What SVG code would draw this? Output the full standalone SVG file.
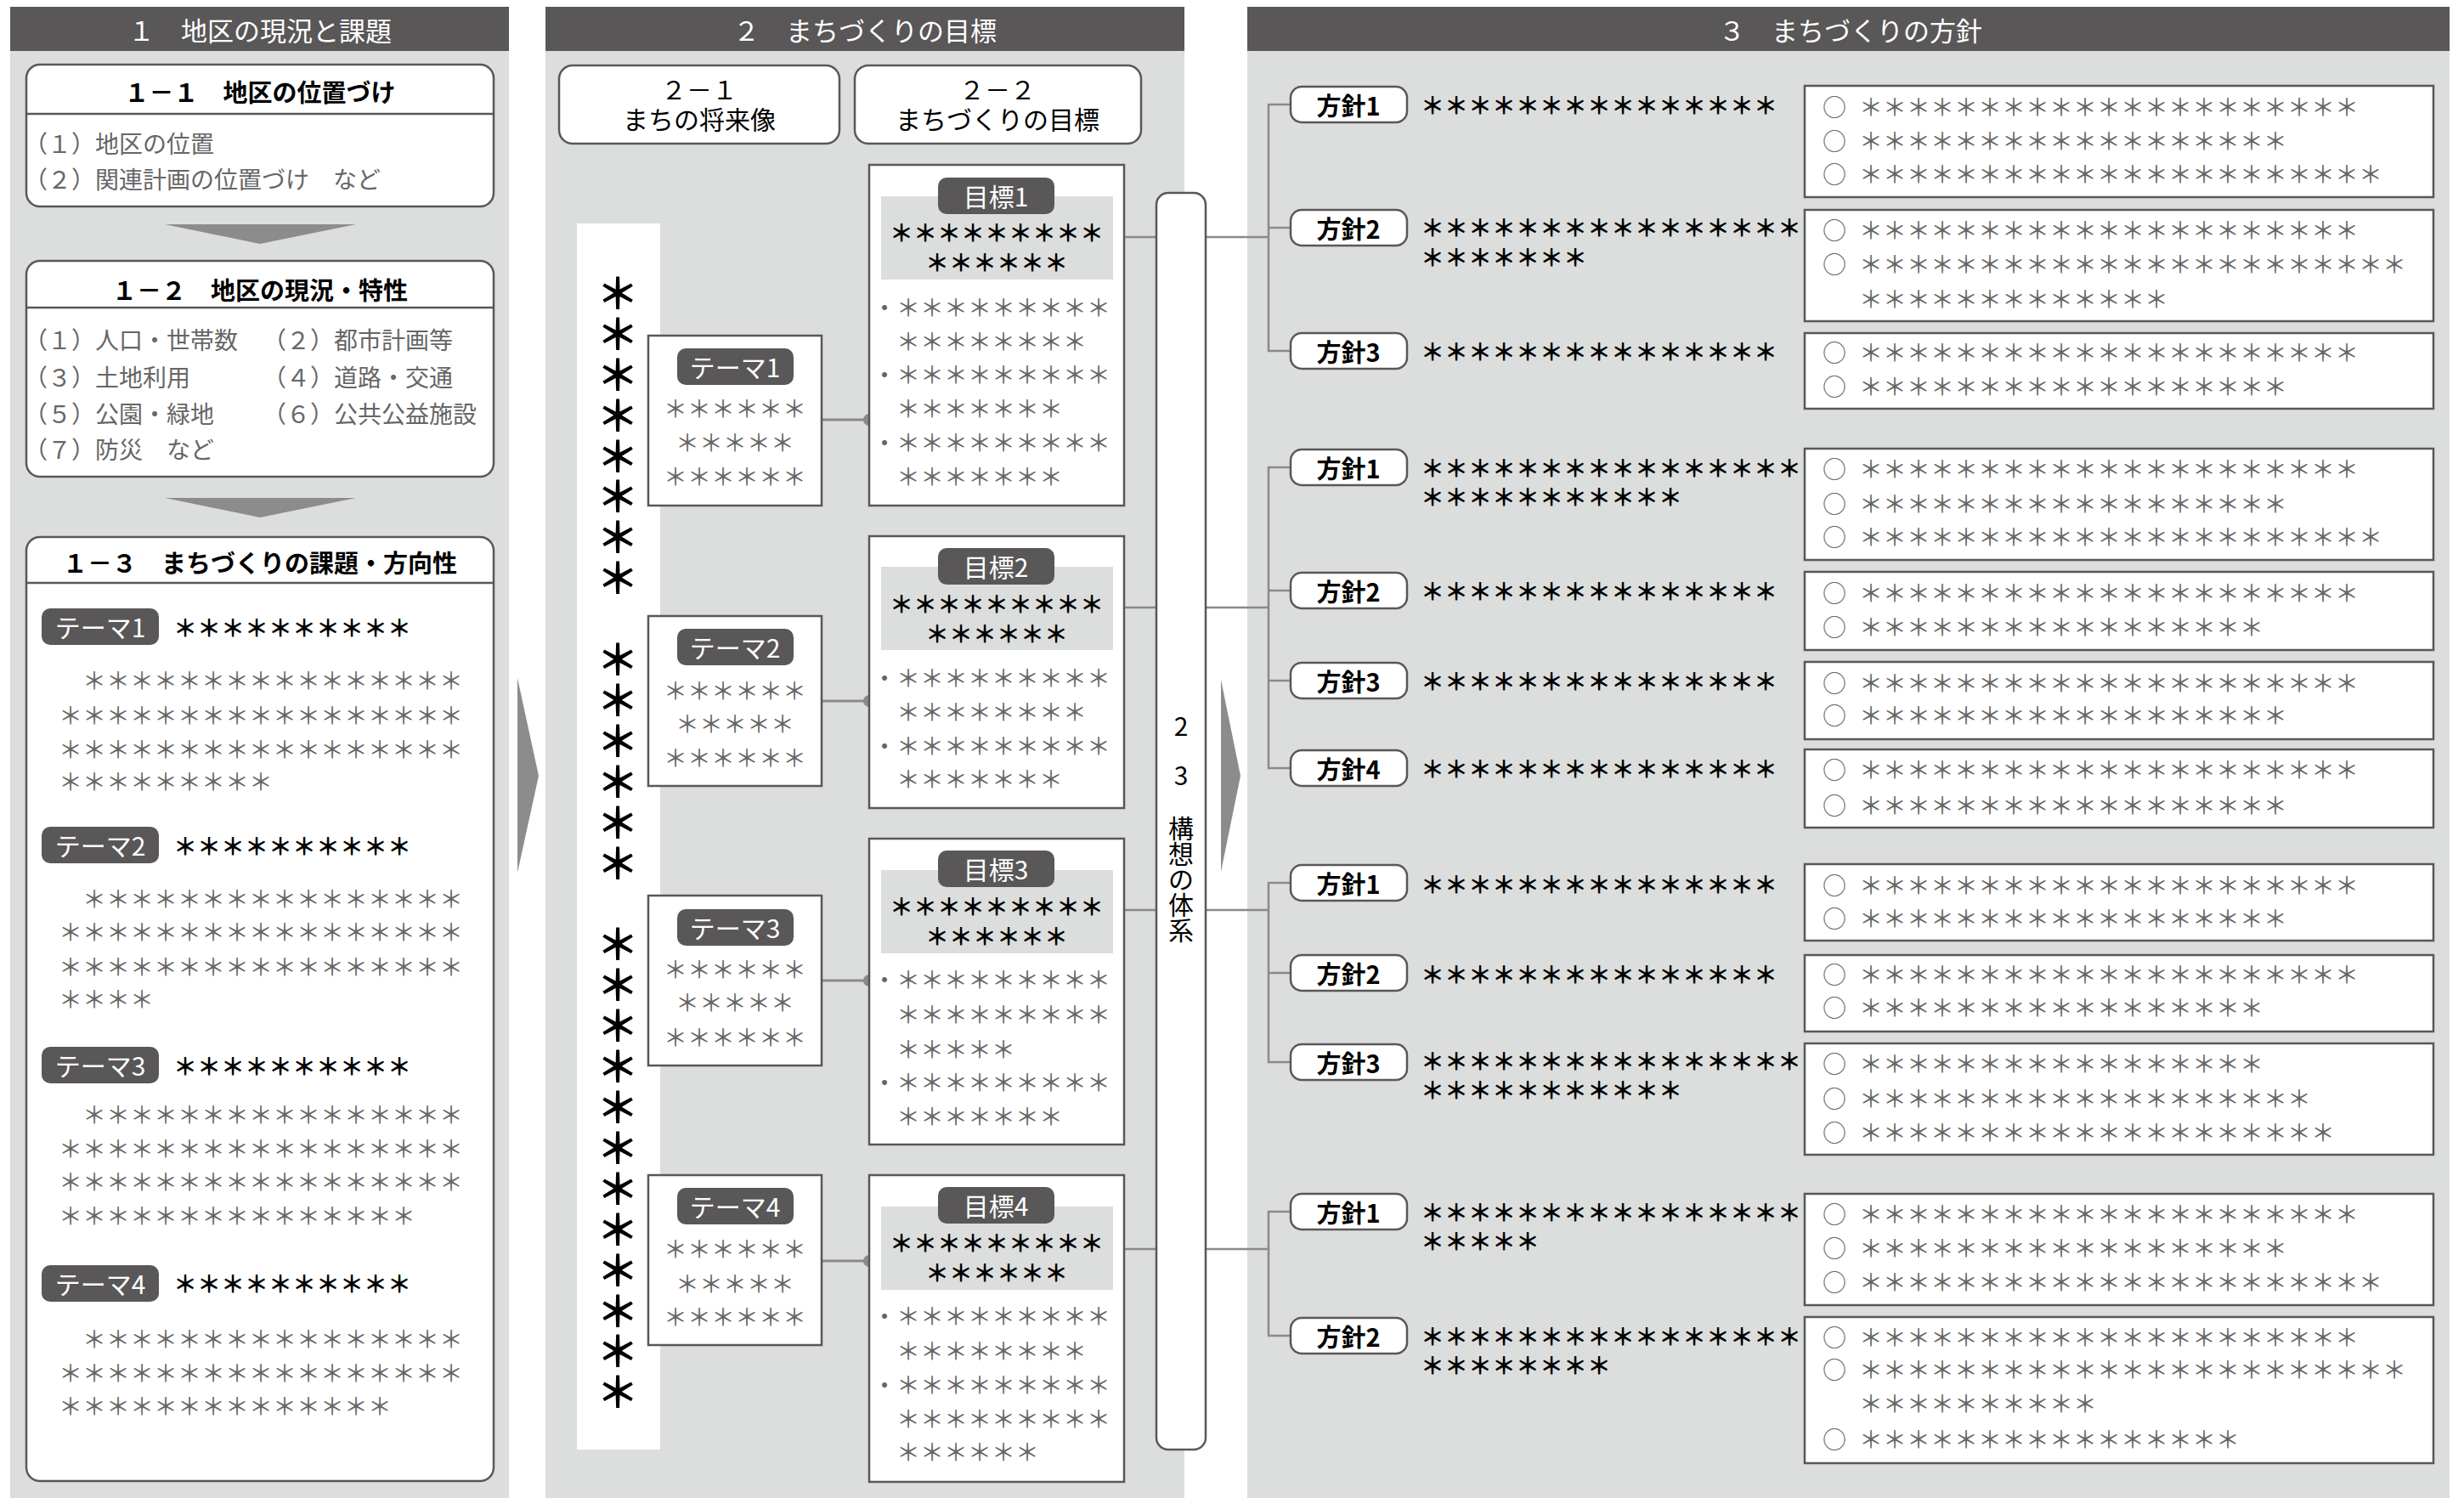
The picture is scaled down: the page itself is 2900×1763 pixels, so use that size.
<svg xmlns="http://www.w3.org/2000/svg" width="2900" height="1763" viewBox="0 0 2900 1763">
<defs>
<style>
text{font-family:"Noto Sans CJK JP","Noto Sans CJK SC",sans-serif;dominant-baseline:central}
.hd{fill:#fff;font-size:31px;text-anchor:middle}
.tt{fill:#000;font-size:29px;font-weight:bold;text-anchor:middle}
.tn{fill:#000;font-size:30px;text-anchor:middle}
.it{fill:#666;font-size:28px}
.g{fill:#666;font-size:28px}
.gc{fill:#666;font-size:28px;text-anchor:middle}
.b{fill:#000;font-size:28px;font-weight:bold}
.bc{fill:#000;font-size:28px;font-weight:bold;text-anchor:middle}
.pt{fill:#fff;font-size:30px;text-anchor:middle}
.pol{fill:#000;font-size:29px;font-weight:bold;text-anchor:middle}
.vis{fill:#000;font-size:50px;font-weight:bold;text-anchor:middle}
.col{fill:#000;font-size:30px;text-anchor:middle}
.panel{fill:#dcdddd}
.head{fill:#595757}
.box{fill:#fff;stroke:#595757;stroke-width:2.5}
.pill{fill:#595757}
.pp{fill:#fff;stroke:#595757;stroke-width:2.5}
.band{fill:#dcdddd}
.div{stroke:#595757;stroke-width:2.5}
.ln{stroke:#8a8a8a;stroke-width:3;fill:none}
.ln2{stroke:#8a8a8a;stroke-width:2.5;fill:none}
.arr{fill:#8c8c8c}
</style>
</defs>
<rect width="2900" height="1763" fill="#fff"/>

<g id="panel1">
<rect class="head" x="12" y="8" width="587" height="52"/>
<text class="hd" x="306" y="34">１　地区の現況と課題</text>
<rect class="panel" x="12" y="60" width="587" height="1703"/>
<polygon class="arr" points="194,264 419,264 306,287"/>
<polygon class="arr" points="194,586 419,586 306,609"/>
</g>
<g id="panel2">
<rect class="head" x="642" y="8" width="752" height="52"/>
<text class="hd" x="1018" y="34">２　まちづくりの目標</text>
<rect class="panel" x="642" y="60" width="752" height="1703"/>
</g>
<g id="panel3">
<rect class="head" x="1468" y="8" width="1415" height="52"/>
<text class="hd" x="2178" y="34">３　まちづくりの方針</text>
<rect class="panel" x="1468" y="60" width="1415" height="1703"/>
</g>
<g id="arrows">
<polygon class="arr" points="609,798 609,1027 634,913"/>
<polygon class="arr" points="1437,800 1437,1026 1460,913"/>
</g>

<g id="connectors">
<line class="ln" x1="967" y1="494" x2="1023" y2="494"/><circle cx="1023" cy="494" r="7" fill="#8a8a8a"/>
<line class="ln" x1="967" y1="825" x2="1023" y2="825"/><circle cx="1023" cy="825" r="7" fill="#8a8a8a"/>
<line class="ln" x1="967" y1="1154" x2="1023" y2="1154"/><circle cx="1023" cy="1154" r="7" fill="#8a8a8a"/>
<line class="ln" x1="967" y1="1484" x2="1023" y2="1484"/><circle cx="1023" cy="1484" r="7" fill="#8a8a8a"/>
<line class="ln2" x1="1323" y1="279" x2="1493" y2="279"/>
<line class="ln2" x1="1323" y1="715" x2="1493" y2="715"/>
<line class="ln2" x1="1323" y1="1071" x2="1493" y2="1071"/>
<line class="ln2" x1="1323" y1="1470" x2="1493" y2="1470"/>
<path class="ln2" d="M1519,123 H1493 V413 H1519 M1493,268 H1519"/>
<path class="ln2" d="M1519,550 H1493 V904 H1519 M1493,695 H1519 M1493,801 H1519"/>
<path class="ln2" d="M1519,1039 H1493 V1250 H1519 M1493,1145 H1519"/>
<path class="ln2" d="M1519,1426 H1493 V1572 H1519"/>
</g>

<g id="box1-1">
<rect class="box" x="31" y="76" width="550" height="167" rx="16"/>
<line class="div" x1="31" y1="134" x2="581" y2="134"/>
<text class="tt" x="306" y="107">１－１　地区の位置づけ</text>
<text class="it" x="28" y="168">（１）地区の位置</text>
<text class="it" x="28" y="210">（２）関連計画の位置づけ　など</text>
</g>
<g id="box1-2">
<rect class="box" x="31" y="307" width="550" height="254" rx="16"/>
<line class="div" x1="31" y1="362" x2="581" y2="362"/>
<text class="tt" x="306" y="340">１－２　地区の現況・特性</text>
<text class="it" x="28" y="399">（１）人口・世帯数</text>
<text class="it" x="309" y="399">（２）都市計画等</text>
<text class="it" x="28" y="443">（３）土地利用</text>
<text class="it" x="309" y="443">（４）道路・交通</text>
<text class="it" x="28" y="486">（５）公園・緑地</text>
<text class="it" x="309" y="486">（６）公共公益施設</text>
<text class="it" x="28" y="528">（７）防災　など</text>
</g>
<g id="box1-3">
<rect class="box" x="31" y="632" width="550" height="1111" rx="16"/>
<line class="div" x1="31" y1="686" x2="581" y2="686"/>
<text class="tt" x="306" y="661">１－３　まちづくりの課題・方向性</text>
<rect class="pill" x="49" y="716" width="138" height="43" rx="10"/>
<text class="pt" x="118" y="737">テーマ1</text>
<text class="b" x="204" y="738">＊＊＊＊＊＊＊＊＊＊</text>
<text class="g" x="69" y="800">　＊＊＊＊＊＊＊＊＊＊＊＊＊＊＊＊</text>
<text class="g" x="69" y="841">＊＊＊＊＊＊＊＊＊＊＊＊＊＊＊＊＊</text>
<text class="g" x="69" y="881">＊＊＊＊＊＊＊＊＊＊＊＊＊＊＊＊＊</text>
<text class="g" x="69" y="919">＊＊＊＊＊＊＊＊＊</text>
<rect class="pill" x="49" y="973" width="138" height="43" rx="10"/>
<text class="pt" x="118" y="994">テーマ2</text>
<text class="b" x="204" y="995">＊＊＊＊＊＊＊＊＊＊</text>
<text class="g" x="69" y="1057">　＊＊＊＊＊＊＊＊＊＊＊＊＊＊＊＊</text>
<text class="g" x="69" y="1096">＊＊＊＊＊＊＊＊＊＊＊＊＊＊＊＊＊</text>
<text class="g" x="69" y="1137">＊＊＊＊＊＊＊＊＊＊＊＊＊＊＊＊＊</text>
<text class="g" x="69" y="1175">＊＊＊＊</text>
<rect class="pill" x="49" y="1232" width="138" height="43" rx="10"/>
<text class="pt" x="118" y="1253">テーマ3</text>
<text class="b" x="204" y="1254">＊＊＊＊＊＊＊＊＊＊</text>
<text class="g" x="69" y="1311">　＊＊＊＊＊＊＊＊＊＊＊＊＊＊＊＊</text>
<text class="g" x="69" y="1351">＊＊＊＊＊＊＊＊＊＊＊＊＊＊＊＊＊</text>
<text class="g" x="69" y="1390">＊＊＊＊＊＊＊＊＊＊＊＊＊＊＊＊＊</text>
<text class="g" x="69" y="1430">＊＊＊＊＊＊＊＊＊＊＊＊＊＊＊</text>
<rect class="pill" x="49" y="1489" width="138" height="43" rx="10"/>
<text class="pt" x="118" y="1510">テーマ4</text>
<text class="b" x="204" y="1510">＊＊＊＊＊＊＊＊＊＊</text>
<text class="g" x="69" y="1575">　＊＊＊＊＊＊＊＊＊＊＊＊＊＊＊＊</text>
<text class="g" x="69" y="1615">＊＊＊＊＊＊＊＊＊＊＊＊＊＊＊＊＊</text>
<text class="g" x="69" y="1654">＊＊＊＊＊＊＊＊＊＊＊＊＊＊</text>
</g>

<g id="box2-1">
<rect class="box" x="658" y="77" width="330" height="92" rx="16"/>
<text class="tn" x="823" y="104">２－１</text>
<text class="tn" x="823" y="139">まちの将来像</text>
</g>
<g id="box2-2">
<rect class="box" x="1006" y="77" width="337" height="92" rx="16"/>
<text class="tn" x="1174" y="104">２－２</text>
<text class="tn" x="1174" y="139">まちづくりの目標</text>
</g>
<g id="vision">
<rect x="679" y="263" width="98" height="1443" fill="#fff"/>
<text class="vis" x="727 727 727 727 727 727 727 727" y="342 390 438 486 534 581 629 677">＊＊＊＊＊＊＊＊</text>
<text class="vis" x="727 727 727 727 727 727" y="773 821 869 917 965 1013">＊＊＊＊＊＊</text>
<text class="vis" x="727 727 727 727 727 727 727 727 727 727 727 727" y="1108 1156 1204 1252 1300 1348 1396 1444 1492 1540 1587 1635">＊＊＊＊＊＊＊＊＊＊＊＊</text>
</g>

<g id="theme2-1">
<rect class="box" x="763" y="395" width="204" height="200"/>
<rect class="pill" x="797" y="410" width="137" height="43" rx="10"/>
<text class="pt" x="865" y="431">テーマ1</text>
<text class="gc" x="865" y="480">＊＊＊＊＊＊</text>
<text class="gc" x="865" y="520">＊＊＊＊＊</text>
<text class="gc" x="865" y="560">＊＊＊＊＊＊</text>
</g>
<g id="theme2-2">
<rect class="box" x="763" y="725" width="204" height="200"/>
<rect class="pill" x="797" y="740" width="137" height="43" rx="10"/>
<text class="pt" x="865" y="761">テーマ2</text>
<text class="gc" x="865" y="812">＊＊＊＊＊＊</text>
<text class="gc" x="865" y="851">＊＊＊＊＊</text>
<text class="gc" x="865" y="891">＊＊＊＊＊＊</text>
</g>
<g id="theme2-3">
<rect class="box" x="763" y="1054" width="204" height="200"/>
<rect class="pill" x="797" y="1070" width="137" height="43" rx="10"/>
<text class="pt" x="865" y="1091">テーマ3</text>
<text class="gc" x="865" y="1140">＊＊＊＊＊＊</text>
<text class="gc" x="865" y="1179">＊＊＊＊＊</text>
<text class="gc" x="865" y="1220">＊＊＊＊＊＊</text>
</g>
<g id="theme2-4">
<rect class="box" x="763" y="1383" width="204" height="200"/>
<rect class="pill" x="797" y="1398" width="137" height="43" rx="10"/>
<text class="pt" x="865" y="1419">テーマ4</text>
<text class="gc" x="865" y="1469">＊＊＊＊＊＊</text>
<text class="gc" x="865" y="1510">＊＊＊＊＊</text>
<text class="gc" x="865" y="1549">＊＊＊＊＊＊</text>
</g>

<g id="goal1">
<rect class="box" x="1023" y="194" width="300" height="401"/>
<rect class="band" x="1037" y="231" width="273" height="98"/>
<rect class="pill" x="1104" y="209" width="137" height="43" rx="10"/>
<text class="pt" x="1172" y="230">目標1</text>
<text class="bc" x="1173" y="273">＊＊＊＊＊＊＊＊＊</text>
<text class="bc" x="1173" y="308">＊＊＊＊＊＊</text>
<text class="g" x="1027" y="361">・＊＊＊＊＊＊＊＊＊</text>
<text class="g" x="1027" y="401">　＊＊＊＊＊＊＊＊</text>
<text class="g" x="1027" y="440">・＊＊＊＊＊＊＊＊＊</text>
<text class="g" x="1027" y="480">　＊＊＊＊＊＊＊</text>
<text class="g" x="1027" y="520">・＊＊＊＊＊＊＊＊＊</text>
<text class="g" x="1027" y="560">　＊＊＊＊＊＊＊</text>
</g>
<g id="goal2">
<rect class="box" x="1023" y="631" width="300" height="320"/>
<rect class="band" x="1037" y="667" width="273" height="98"/>
<rect class="pill" x="1104" y="645" width="137" height="43" rx="10"/>
<text class="pt" x="1172" y="666">目標2</text>
<text class="bc" x="1173" y="710">＊＊＊＊＊＊＊＊＊</text>
<text class="bc" x="1173" y="745">＊＊＊＊＊＊</text>
<text class="g" x="1027" y="797">・＊＊＊＊＊＊＊＊＊</text>
<text class="g" x="1027" y="837">　＊＊＊＊＊＊＊＊</text>
<text class="g" x="1027" y="877">・＊＊＊＊＊＊＊＊＊</text>
<text class="g" x="1027" y="916">　＊＊＊＊＊＊＊</text>
</g>
<g id="goal3">
<rect class="box" x="1023" y="987" width="300" height="360"/>
<rect class="band" x="1037" y="1024" width="273" height="98"/>
<rect class="pill" x="1104" y="1001" width="137" height="43" rx="10"/>
<text class="pt" x="1172" y="1022">目標3</text>
<text class="bc" x="1173" y="1066">＊＊＊＊＊＊＊＊＊</text>
<text class="bc" x="1173" y="1101">＊＊＊＊＊＊</text>
<text class="g" x="1027" y="1152">・＊＊＊＊＊＊＊＊＊</text>
<text class="g" x="1027" y="1193">　＊＊＊＊＊＊＊＊＊</text>
<text class="g" x="1027" y="1234">　＊＊＊＊＊</text>
<text class="g" x="1027" y="1273">・＊＊＊＊＊＊＊＊＊</text>
<text class="g" x="1027" y="1313">　＊＊＊＊＊＊＊</text>
</g>
<g id="goal4">
<rect class="box" x="1023" y="1383" width="300" height="361"/>
<rect class="band" x="1037" y="1420" width="273" height="98"/>
<rect class="pill" x="1104" y="1397" width="137" height="43" rx="10"/>
<text class="pt" x="1172" y="1418">目標4</text>
<text class="bc" x="1173" y="1462">＊＊＊＊＊＊＊＊＊</text>
<text class="bc" x="1173" y="1497">＊＊＊＊＊＊</text>
<text class="g" x="1027" y="1548">・＊＊＊＊＊＊＊＊＊</text>
<text class="g" x="1027" y="1589">　＊＊＊＊＊＊＊＊</text>
<text class="g" x="1027" y="1629">・＊＊＊＊＊＊＊＊＊</text>
<text class="g" x="1027" y="1669">　＊＊＊＊＊＊＊＊＊</text>
<text class="g" x="1027" y="1708">　＊＊＊＊＊＊</text>
</g>

<g id="box2-3">
<rect class="box" x="1361" y="227" width="58" height="1479" rx="14"/>
<text class="col" x="1390 1390 1390 1390 1390 1390 1390" y="853 911 973 1003 1033 1063 1093">23構想の体系</text>
</g>

<g id="g1p1">
<rect class="pp" x="1519" y="102" width="137" height="42" rx="13"/>
<text class="pol" x="1587" y="123">方針1</text>
<text class="b" x="1672" y="123">＊＊＊＊＊＊＊＊＊＊＊＊＊＊＊</text>
<rect class="box" x="2124" y="101" width="740" height="131"/>
<text class="g" y="125"><tspan x="2145">○</tspan><tspan x="2188">＊＊＊＊＊＊＊＊＊＊＊＊＊＊＊＊＊＊＊＊＊</tspan></text>
<text class="g" y="165"><tspan x="2145">○</tspan><tspan x="2188">＊＊＊＊＊＊＊＊＊＊＊＊＊＊＊＊＊＊</tspan></text>
<text class="g" y="204"><tspan x="2145">○</tspan><tspan x="2188">＊＊＊＊＊＊＊＊＊＊＊＊＊＊＊＊＊＊＊＊＊＊</tspan></text>
</g>
<g id="g1p2">
<rect class="pp" x="1519" y="247" width="137" height="42" rx="13"/>
<text class="pol" x="1587" y="268">方針2</text>
<text class="b" x="1672" y="267">＊＊＊＊＊＊＊＊＊＊＊＊＊＊＊＊</text>
<text class="b" x="1672" y="302">＊＊＊＊＊＊＊</text>
<rect class="box" x="2124" y="247" width="740" height="131"/>
<text class="g" y="270"><tspan x="2145">○</tspan><tspan x="2188">＊＊＊＊＊＊＊＊＊＊＊＊＊＊＊＊＊＊＊＊＊</tspan></text>
<text class="g" y="310"><tspan x="2145">○</tspan><tspan x="2188">＊＊＊＊＊＊＊＊＊＊＊＊＊＊＊＊＊＊＊＊＊＊＊</tspan></text>
<text class="g" x="2188" y="351">＊＊＊＊＊＊＊＊＊＊＊＊＊</text>
</g>
<g id="g1p3">
<rect class="pp" x="1519" y="392" width="137" height="42" rx="13"/>
<text class="pol" x="1587" y="413">方針3</text>
<text class="b" x="1672" y="413">＊＊＊＊＊＊＊＊＊＊＊＊＊＊＊</text>
<rect class="box" x="2124" y="392" width="740" height="89"/>
<text class="g" y="414"><tspan x="2145">○</tspan><tspan x="2188">＊＊＊＊＊＊＊＊＊＊＊＊＊＊＊＊＊＊＊＊＊</tspan></text>
<text class="g" y="454"><tspan x="2145">○</tspan><tspan x="2188">＊＊＊＊＊＊＊＊＊＊＊＊＊＊＊＊＊＊</tspan></text>
</g>

<g id="g2p1">
<rect class="pp" x="1519" y="529" width="137" height="42" rx="13"/>
<text class="pol" x="1587" y="550">方針1</text>
<text class="b" x="1672" y="550">＊＊＊＊＊＊＊＊＊＊＊＊＊＊＊＊</text>
<text class="b" x="1672" y="584">＊＊＊＊＊＊＊＊＊＊＊</text>
<rect class="box" x="2124" y="528" width="740" height="131"/>
<text class="g" y="551"><tspan x="2145">○</tspan><tspan x="2188">＊＊＊＊＊＊＊＊＊＊＊＊＊＊＊＊＊＊＊＊＊</tspan></text>
<text class="g" y="592"><tspan x="2145">○</tspan><tspan x="2188">＊＊＊＊＊＊＊＊＊＊＊＊＊＊＊＊＊＊</tspan></text>
<text class="g" y="631"><tspan x="2145">○</tspan><tspan x="2188">＊＊＊＊＊＊＊＊＊＊＊＊＊＊＊＊＊＊＊＊＊＊</tspan></text>
</g>
<g id="g2p2">
<rect class="pp" x="1519" y="674" width="137" height="42" rx="13"/>
<text class="pol" x="1587" y="695">方針2</text>
<text class="b" x="1672" y="695">＊＊＊＊＊＊＊＊＊＊＊＊＊＊＊</text>
<rect class="box" x="2124" y="673" width="740" height="92"/>
<text class="g" y="697"><tspan x="2145">○</tspan><tspan x="2188">＊＊＊＊＊＊＊＊＊＊＊＊＊＊＊＊＊＊＊＊＊</tspan></text>
<text class="g" y="737"><tspan x="2145">○</tspan><tspan x="2188">＊＊＊＊＊＊＊＊＊＊＊＊＊＊＊＊＊</tspan></text>
</g>
<g id="g2p3">
<rect class="pp" x="1519" y="780" width="137" height="42" rx="13"/>
<text class="pol" x="1587" y="801">方針3</text>
<text class="b" x="1672" y="801">＊＊＊＊＊＊＊＊＊＊＊＊＊＊＊</text>
<rect class="box" x="2124" y="779" width="740" height="91"/>
<text class="g" y="803"><tspan x="2145">○</tspan><tspan x="2188">＊＊＊＊＊＊＊＊＊＊＊＊＊＊＊＊＊＊＊＊＊</tspan></text>
<text class="g" y="841"><tspan x="2145">○</tspan><tspan x="2188">＊＊＊＊＊＊＊＊＊＊＊＊＊＊＊＊＊＊</tspan></text>
</g>
<g id="g2p4">
<rect class="pp" x="1519" y="883" width="137" height="42" rx="13"/>
<text class="pol" x="1587" y="904">方針4</text>
<text class="b" x="1672" y="904">＊＊＊＊＊＊＊＊＊＊＊＊＊＊＊</text>
<rect class="box" x="2124" y="882" width="740" height="92"/>
<text class="g" y="905"><tspan x="2145">○</tspan><tspan x="2188">＊＊＊＊＊＊＊＊＊＊＊＊＊＊＊＊＊＊＊＊＊</tspan></text>
<text class="g" y="947"><tspan x="2145">○</tspan><tspan x="2188">＊＊＊＊＊＊＊＊＊＊＊＊＊＊＊＊＊＊</tspan></text>
</g>

<g id="g3p1">
<rect class="pp" x="1519" y="1018" width="137" height="42" rx="13"/>
<text class="pol" x="1587" y="1039">方針1</text>
<text class="b" x="1672" y="1040">＊＊＊＊＊＊＊＊＊＊＊＊＊＊＊</text>
<rect class="box" x="2124" y="1017" width="740" height="90"/>
<text class="g" y="1041"><tspan x="2145">○</tspan><tspan x="2188">＊＊＊＊＊＊＊＊＊＊＊＊＊＊＊＊＊＊＊＊＊</tspan></text>
<text class="g" y="1080"><tspan x="2145">○</tspan><tspan x="2188">＊＊＊＊＊＊＊＊＊＊＊＊＊＊＊＊＊＊</tspan></text>
</g>
<g id="g3p2">
<rect class="pp" x="1519" y="1124" width="137" height="42" rx="13"/>
<text class="pol" x="1587" y="1145">方針2</text>
<text class="b" x="1672" y="1146">＊＊＊＊＊＊＊＊＊＊＊＊＊＊＊</text>
<rect class="box" x="2124" y="1124" width="740" height="90"/>
<text class="g" y="1146"><tspan x="2145">○</tspan><tspan x="2188">＊＊＊＊＊＊＊＊＊＊＊＊＊＊＊＊＊＊＊＊＊</tspan></text>
<text class="g" y="1185"><tspan x="2145">○</tspan><tspan x="2188">＊＊＊＊＊＊＊＊＊＊＊＊＊＊＊＊＊</tspan></text>
</g>
<g id="g3p3">
<rect class="pp" x="1519" y="1229" width="137" height="42" rx="13"/>
<text class="pol" x="1587" y="1250">方針3</text>
<text class="b" x="1672" y="1248">＊＊＊＊＊＊＊＊＊＊＊＊＊＊＊＊</text>
<text class="b" x="1672" y="1282">＊＊＊＊＊＊＊＊＊＊＊</text>
<rect class="box" x="2124" y="1228" width="740" height="131"/>
<text class="g" y="1251"><tspan x="2145">○</tspan><tspan x="2188">＊＊＊＊＊＊＊＊＊＊＊＊＊＊＊＊＊</tspan></text>
<text class="g" y="1292"><tspan x="2145">○</tspan><tspan x="2188">＊＊＊＊＊＊＊＊＊＊＊＊＊＊＊＊＊＊＊</tspan></text>
<text class="g" y="1332"><tspan x="2145">○</tspan><tspan x="2188">＊＊＊＊＊＊＊＊＊＊＊＊＊＊＊＊＊＊＊＊</tspan></text>
</g>

<g id="g4p1">
<rect class="pp" x="1519" y="1405" width="137" height="42" rx="13"/>
<text class="pol" x="1587" y="1426">方針1</text>
<text class="b" x="1672" y="1426">＊＊＊＊＊＊＊＊＊＊＊＊＊＊＊＊</text>
<text class="b" x="1672" y="1460">＊＊＊＊＊</text>
<rect class="box" x="2124" y="1405" width="740" height="131"/>
<text class="g" y="1428"><tspan x="2145">○</tspan><tspan x="2188">＊＊＊＊＊＊＊＊＊＊＊＊＊＊＊＊＊＊＊＊＊</tspan></text>
<text class="g" y="1468"><tspan x="2145">○</tspan><tspan x="2188">＊＊＊＊＊＊＊＊＊＊＊＊＊＊＊＊＊＊</tspan></text>
<text class="g" y="1508"><tspan x="2145">○</tspan><tspan x="2188">＊＊＊＊＊＊＊＊＊＊＊＊＊＊＊＊＊＊＊＊＊＊</tspan></text>
</g>
<g id="g4p2">
<rect class="pp" x="1519" y="1551" width="137" height="42" rx="13"/>
<text class="pol" x="1587" y="1572">方針2</text>
<text class="b" x="1672" y="1572">＊＊＊＊＊＊＊＊＊＊＊＊＊＊＊＊</text>
<text class="b" x="1672" y="1606">＊＊＊＊＊＊＊＊</text>
<rect class="box" x="2124" y="1550" width="740" height="172"/>
<text class="g" y="1573"><tspan x="2145">○</tspan><tspan x="2188">＊＊＊＊＊＊＊＊＊＊＊＊＊＊＊＊＊＊＊＊＊</tspan></text>
<text class="g" y="1611"><tspan x="2145">○</tspan><tspan x="2188">＊＊＊＊＊＊＊＊＊＊＊＊＊＊＊＊＊＊＊＊＊＊＊</tspan></text>
<text class="g" x="2188" y="1651">＊＊＊＊＊＊＊＊＊＊</text>
<text class="g" y="1693"><tspan x="2145">○</tspan><tspan x="2188">＊＊＊＊＊＊＊＊＊＊＊＊＊＊＊＊</tspan></text>
</g>
</svg>
